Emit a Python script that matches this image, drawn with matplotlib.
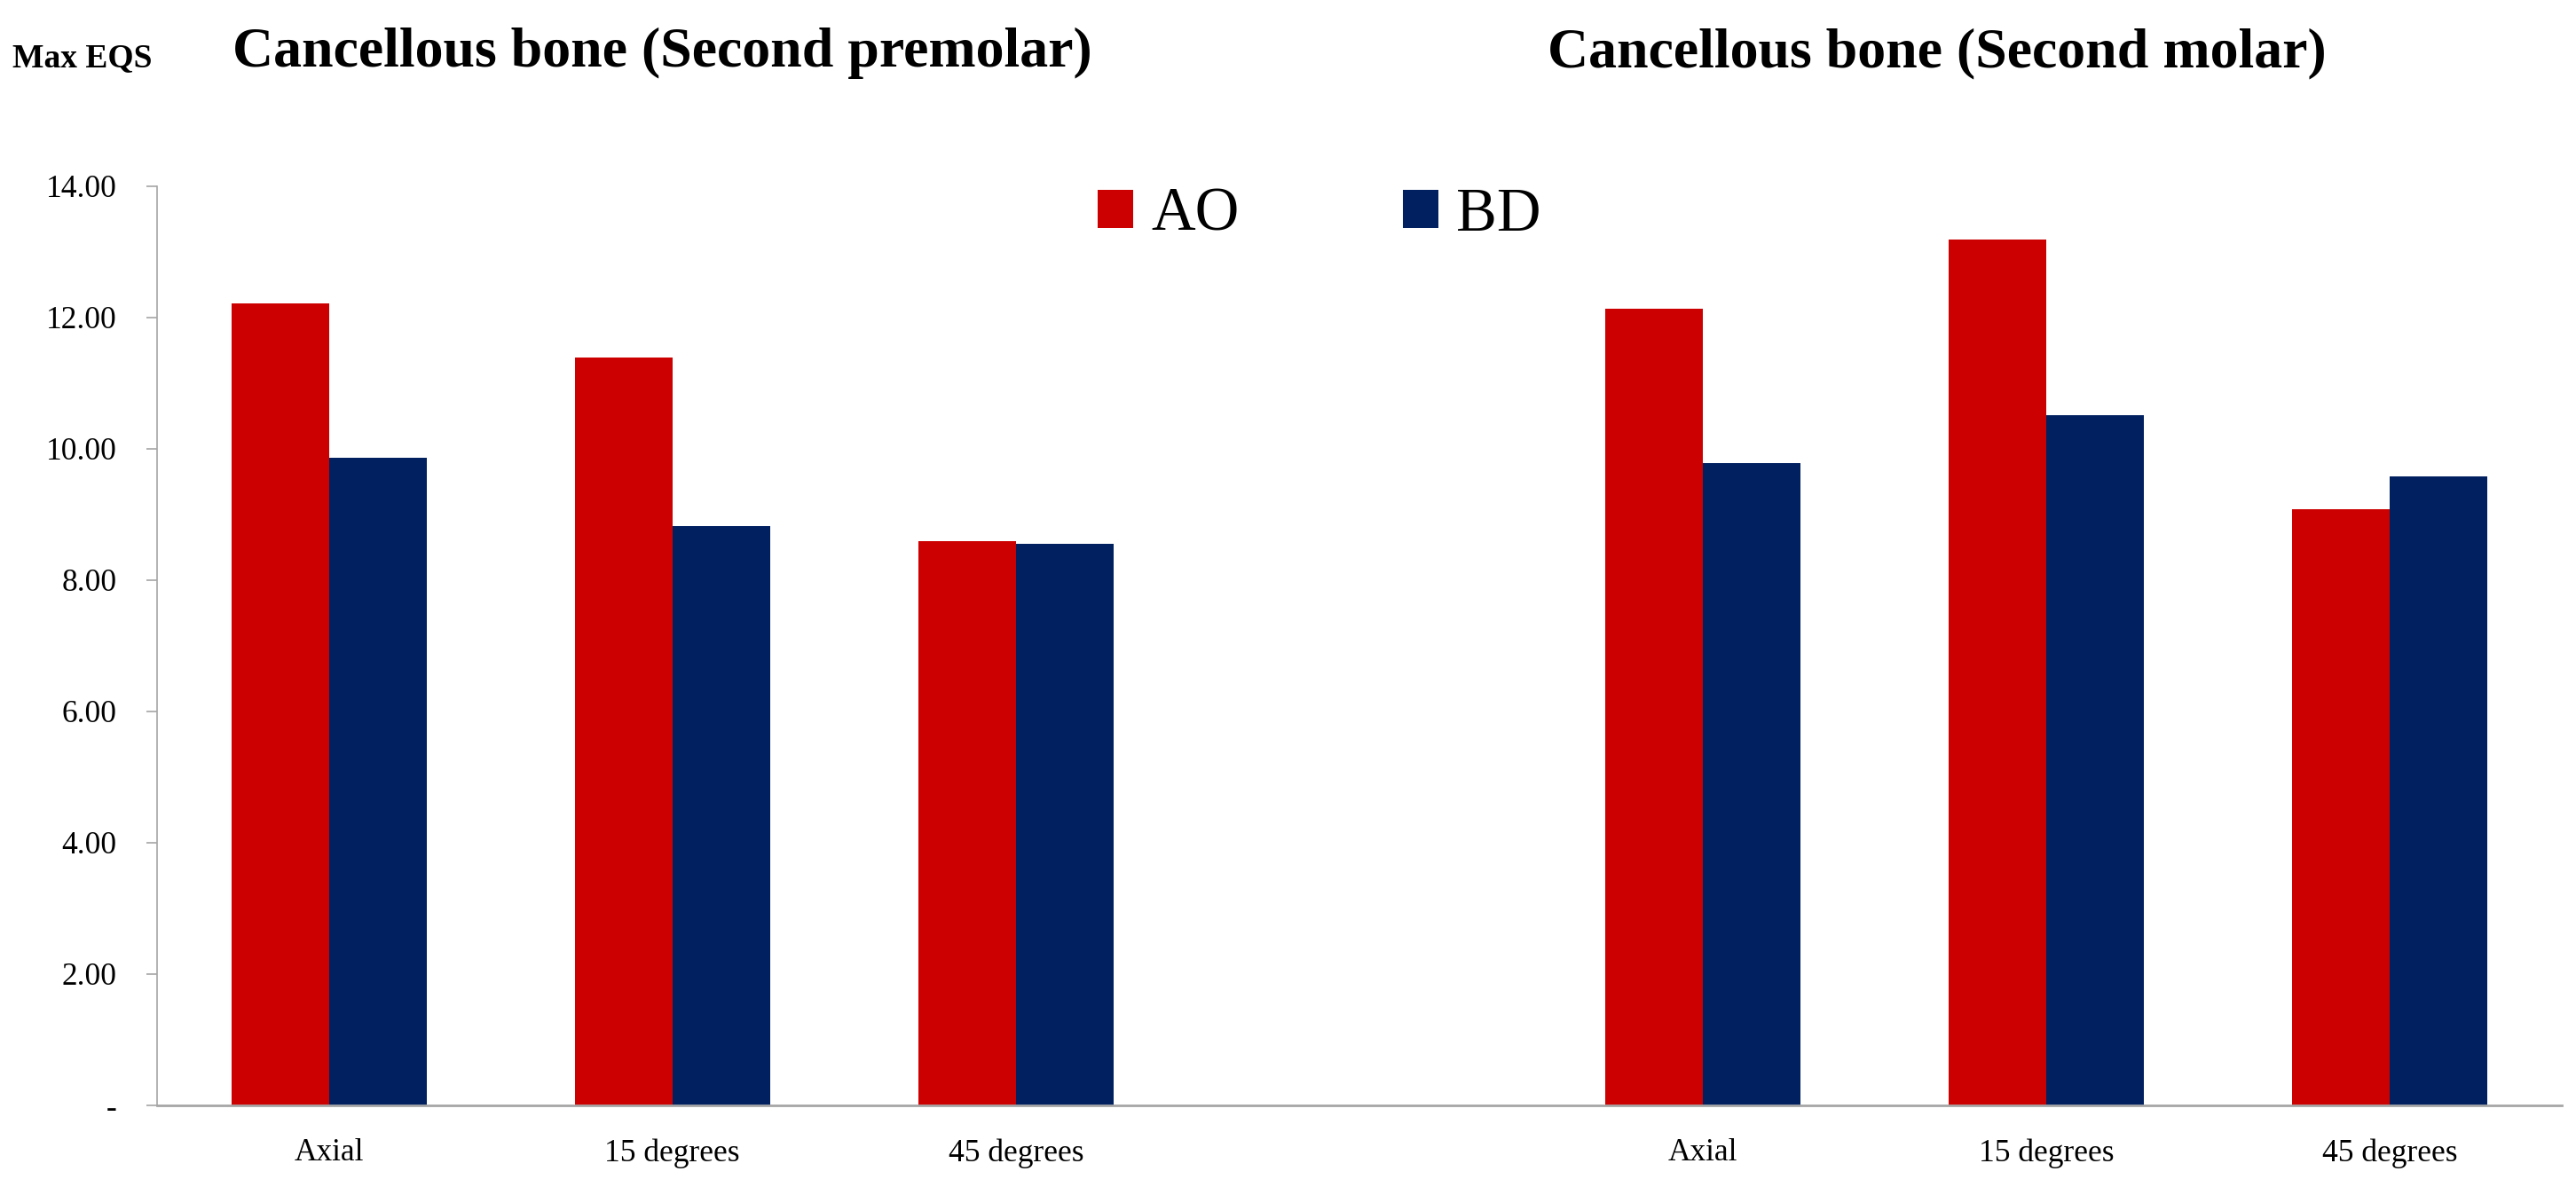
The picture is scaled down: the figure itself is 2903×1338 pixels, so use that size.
import matplotlib
matplotlib.use("Agg")
import matplotlib.pyplot as plt
from matplotlib.patches import Patch
from matplotlib.ticker import FuncFormatter, MultipleLocator
import numpy as np

# ---- data ----
categories = ["Axial", "15 degrees", "45 degrees", "", "Axial", "15 degrees", "45 degrees"]
ao_values = [12.22, 11.39, 8.59, np.nan, 12.14, 13.19, 9.08]
bd_values = [9.86, 8.83, 8.56, np.nan, 9.78, 10.52, 9.58]
series_names = ["AO", "BD"]
title_left = "Cancellous bone (Second premolar)"
title_right = "Cancellous bone (Second molar)"
y_label = "Max EQS"

# ---- style ----
W, H, DPI = 2903, 1338, 100
red = "#CC0000"
navy = "#002060"
gray = "#A6A6A6"
serif = ["Liberation Serif", "DejaVu Serif"]
plt.rcParams["font.family"] = serif

fig = plt.figure(figsize=(W / DPI, H / DPI), dpi=DPI)
left, right, bottom, top = 177, 2887, 1246, 210
ax = fig.add_axes([left / W, (H - bottom) / H, (right - left) / W, (bottom - top) / H])

x = np.arange(len(categories))
bw = 0.284
ax.bar(x - bw / 2, ao_values, width=bw, color=red, label=series_names[0])
ax.bar(x + bw / 2, bd_values, width=bw, color=navy, label=series_names[1])

ax.set_xlim(-0.5, len(categories) - 0.5)
ax.set_ylim(0, 14)
ax.yaxis.set_major_locator(MultipleLocator(2))
ax.yaxis.set_major_formatter(FuncFormatter(lambda v, p: "-" if abs(v) < 1e-9 else f"{v:.2f}"))
ax.set_xticks(x)
ax.set_xticklabels(categories)

for s in ["top", "right"]:
    ax.spines[s].set_visible(False)
ax.spines["left"].set_color(gray)
ax.spines["left"].set_linewidth(1.2)
ax.spines["bottom"].set_color(gray)
ax.spines["bottom"].set_linewidth(2.0)
ax.spines["bottom"].set_zorder(3)

ax.tick_params(axis="y", direction="out", length=8.6, width=1.2, color=gray,
               labelsize=25.5, pad=24, labelcolor="black")
ax.tick_params(axis="x", length=0, labelsize=25.5, pad=27, labelcolor="black")

# titles
fig.text(262 / W, 1 - 75 / H, title_left, fontsize=46, fontweight="bold", ha="left", va="baseline")
fig.text(1744 / W, 1 - 75 / H, title_right, fontsize=46, fontweight="bold", ha="left", va="baseline")
fig.text(14 / W, 1 - 75 / H, y_label, fontsize=27, fontweight="bold", ha="left", va="baseline")

# legend
fs = 49.5
em = fs * DPI / 72
handles = [Patch(facecolor=red, edgecolor="none"), Patch(facecolor=navy, edgecolor="none")]
fig.legend(handles, series_names, loc="center left", bbox_to_anchor=(1237 / W, 1 - 243 / H),
           ncol=2, frameon=False, fontsize=fs, handlelength=40 / em, handleheight=40 / em,
           handletextpad=20 / em, columnspacing=2.69, borderpad=0, borderaxespad=0)

fig.savefig("out.png", dpi=DPI)
